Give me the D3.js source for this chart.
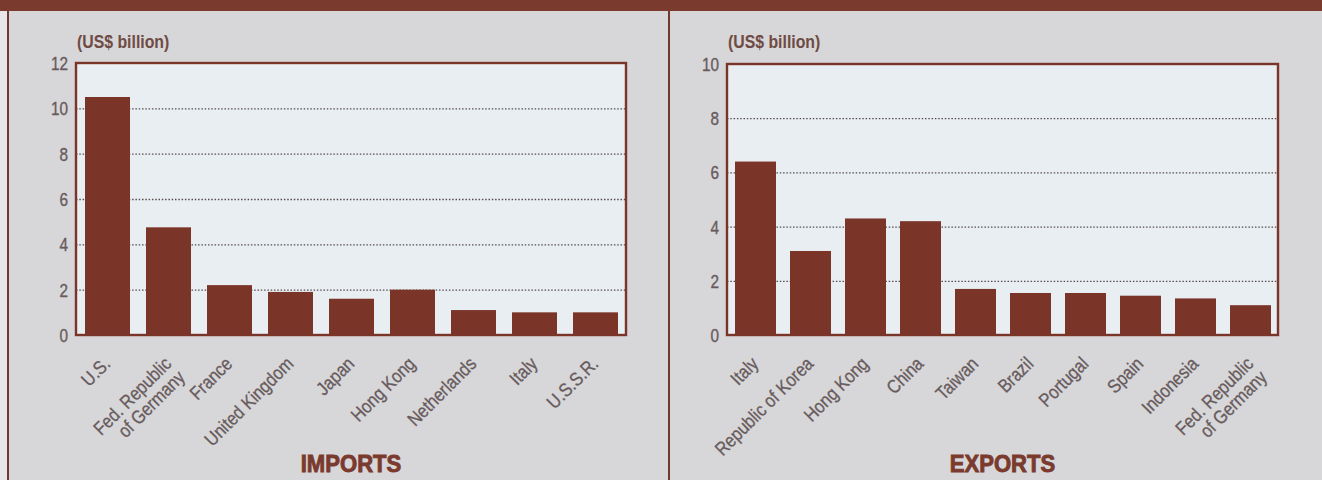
<!DOCTYPE html>
<html>
<head>
<meta charset="utf-8">
<script src="https://cdn.jsdelivr.net/npm/d3@7"></script>
<style>
  html, body { margin: 0; padding: 0; background: #d7d6d8; }
  svg { display: block; }
  text { font-family: "Liberation Sans", Arial, sans-serif; }
</style>
</head>
<body>
<svg id="chart" width="1322" height="480"></svg>
<script>
// Leading trading partners, US$ billion
const importCountries = ["U.S.", "Fed. Republic\nof Germany", "France", "United Kingdom", "Japan", "Hong Kong", "Netherlands", "Italy", "U.S.S.R."];
const importValues = [10.5, 4.75, 2.2, 1.9, 1.6, 2.0, 1.1, 1.0, 1.0];
const importTicks = [0, 2, 4, 6, 8, 10, 12];

const exportCountries = ["Italy", "Republic of Korea", "Hong Kong", "China", "Taiwan", "Brazil", "Portugal", "Spain", "Indonesia", "Fed. Republic\nof Germany"];
const exportValues = [6.4, 3.1, 4.3, 4.2, 1.7, 1.55, 1.55, 1.45, 1.35, 1.1];
const exportTicks = [0, 2, 4, 6, 8, 10];

const unitLabel = "(US$ billion)";

const BROWN = "#7b3428";
const DARK = "#6e3a30";
const TEXT = "#675b5d";

const svg = d3.select("#chart");

// page frame
svg.append("rect").attr("width", 1322).attr("height", 480).attr("fill", "#d7d6d8");
svg.append("rect").attr("width", 7).attr("height", 480).attr("fill", "#e7e6e8");
svg.append("rect").attr("width", 1322).attr("height", 11).attr("fill", "#7a3a2d");
svg.append("line").attr("x1", 8).attr("x2", 8).attr("y1", 11).attr("y2", 480)
  .attr("stroke", DARK).attr("stroke-width", 2);
svg.append("line").attr("x1", 669).attr("x2", 669).attr("y1", 11).attr("y2", 480)
  .attr("stroke", DARK).attr("stroke-width", 2);

function drawPanel(cfg) {
  const { categories, values, ticks, x0, x1, y0, y1, padInner, title } = cfg;
  const max = d3.max(ticks);
  const g = svg.append("g");

  const y = d3.scaleLinear().domain([0, max]).range([y1, y0]);
  const x = d3.scaleBand().domain(categories).range([x0 + 1, x1])
    .paddingInner(padInner).paddingOuter(padInner / 2);

  // plot background
  g.append("rect").attr("x", x0).attr("y", y0).attr("width", x1 - x0).attr("height", y1 - y0)
    .attr("fill", "#e9eef2");

  // dotted gridlines
  const grid = g.append("g").attr("transform", `translate(${x0},0)`)
    .call(d3.axisLeft(y).tickValues(ticks.filter(t => t > 0 && t < max))
      .tickSize(-(x1 - x0)).tickFormat(""));
  grid.select(".domain").remove();
  grid.selectAll(".tick line").attr("stroke", "#574c4d").attr("stroke-width", 1.3)
    .attr("stroke-dasharray", "1.5,1.8");

  // bars
  g.append("g").selectAll("rect").data(values).join("rect")
    .attr("x", (d, i) => x(categories[i]))
    .attr("width", x.bandwidth())
    .attr("y", d => y(d))
    .attr("height", d => y(0) - y(d))
    .attr("fill", BROWN);

  // frame
  g.append("rect").attr("x", x0).attr("y", y0).attr("width", x1 - x0).attr("height", y1 - y0)
    .attr("fill", "none").attr("stroke", BROWN).attr("stroke-width", 2.4);

  // value axis labels
  const ya = g.append("g").attr("transform", `translate(${x0 - 8},0)`)
    .call(d3.axisLeft(y).tickValues(ticks).tickSize(0).tickPadding(0));
  ya.select(".domain").remove();
  ya.selectAll(".tick text")
    .attr("x", 0).attr("dy", "0.36em")
    .attr("transform", "scale(0.85,1)")
    .attr("fill", TEXT).attr("stroke", TEXT).attr("stroke-width", 0.35)
    .attr("font-size", 18).attr("font-family", "Liberation Sans, Arial, sans-serif");

  // unit label
  g.append("text").attr("transform", `translate(${x0 + 1},48) scale(0.88,1)`)
    .attr("font-size", 18).attr("font-weight", "bold").attr("fill", "#6f4b45")
    .text(unitLabel);

  // category labels
  const xa = g.append("g").attr("transform", `translate(0,${y1})`)
    .call(d3.axisBottom(x).tickSize(0));
  xa.select(".domain").remove();
  xa.selectAll(".tick text").each(function(d) {
    const t = d3.select(this);
    t.text(null)
      .attr("y", null).attr("dy", null)
      .attr("text-anchor", "end")
      .attr("transform", "translate(4,30) rotate(-45) scale(0.86,1)")
      .attr("fill", TEXT).attr("stroke", TEXT).attr("stroke-width", 0.3)
      .attr("font-size", 19).attr("font-family", "Liberation Sans, Arial, sans-serif");
    d.split("\n").forEach((line, i) => {
      t.append("tspan").attr("x", 0).attr("dy", i === 0 ? 0 : "1.0em").text(line);
    });
  });

  // panel title
  g.append("text").attr("transform", `translate(${(x0 + x1) / 2},472) scale(0.92,1)`)
    .attr("text-anchor", "middle").attr("font-size", 24).attr("font-weight", "bold")
    .attr("fill", "#7a3a2d").attr("stroke", "#7a3a2d").attr("stroke-width", 0.9)
    .text(title);
}

drawPanel({
  categories: importCountries, values: importValues, ticks: importTicks,
  x0: 76, x1: 626, y0: 63, y1: 335, padInner: 16 / 61, title: "IMPORTS"
});

drawPanel({
  categories: exportCountries, values: exportValues, ticks: exportTicks,
  x0: 727, x1: 1278, y0: 64, y1: 335, padInner: 14 / 55, title: "EXPORTS"
});
</script>
</body>
</html>
